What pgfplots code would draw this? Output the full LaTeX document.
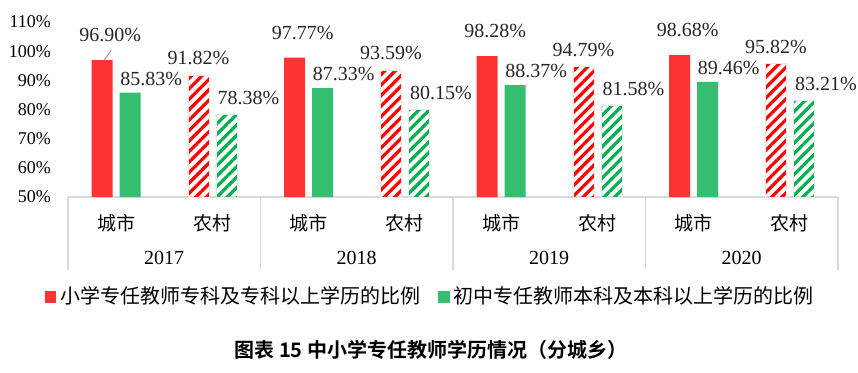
\documentclass[border=0pt]{standalone}
\usepackage{fontspec}
\setmainfont{Liberation Serif}
\newfontfamily\cjk{Noto Sans CJK SC}
\newfontfamily\cjkb{Noto Sans CJK SC Bold}
\usepackage{pgfplots}
\pgfplotsset{compat=1.18}
\usetikzlibrary{patterns.meta}
\definecolor{cred}{RGB}{255,51,51}
\definecolor{cgreen}{RGB}{51,191,111}
\definecolor{hred}{RGB}{255,0,0}
\definecolor{hgreen}{RGB}{0,176,80}
\definecolor{sep}{RGB}{217,217,217}
\begin{document}
\begin{tikzpicture}
\path[use as bounding box] (-34pt,-87.5pt) rectangle (395pt,98.5pt);
\begin{axis}[
  at={(0,0)}, anchor=south west,
  scale only axis, width=385pt, height=87.5pt,
  clip=false,
  ymin=50, ymax=110, ytick={50,60,...,110},
  yticklabel={\pgfmathprintnumber{\tick}\%},
  /pgf/number format/assume math mode=true,
  yticklabel style={font=\fontsize{9}{10}\selectfont, xshift=-5pt},
  xmin=-0.5, xmax=7.5,
  xtick={0,...,7},
  xticklabels={城市,农村,城市,农村,城市,农村,城市,农村},
  xticklabel style={font=\cjk\fontsize{9.5}{11}\selectfont, yshift=-5pt},
  major tick length=0pt,
  axis x line*=bottom, axis y line*=left,
  x axis line style={draw=sep, line width=0.6pt, -},
  y axis line style={draw=none},
  ybar, bar width=10.5pt,
  nodes near coords={\pgfmathprintnumber[fixed,precision=2,fixed zerofill]{\pgfplotspointmeta}\%},
  every node near coord/.append style={font=\fontsize{10}{11}\selectfont, text=black!85, anchor=south},
  legend style={at={(0.472,-0.571)}, anchor=center, draw=none, fill=none,
    font=\cjk\fontsize{10}{11}\selectfont, legend columns=2,
    /tikz/every even column/.append style={column sep=7pt}},
  legend image code/.code={\fill[#1] (0pt,-2.8pt) rectangle (5.6pt,2.8pt);},
]
% city: primary
\addplot[fill=cred, draw=none, bar shift=-7pt,
  every node near coord/.append style={xshift=4pt, yshift=5.5pt}]
  coordinates {(0,96.90) (2,97.77) (4,98.28) (6,98.68)};
\addlegendentry{小学专任教师专科及专科以上学历的比例}
% city: junior
\addplot[fill=cgreen, draw=none, bar shift=7pt,
  every node near coord/.append style={xshift=10.5pt, yshift=0pt}]
  coordinates {(0,85.83) (2,87.33) (4,88.37) (6,89.46)};
\addlegendentry{初中专任教师本科及本科以上学历的比例}
% rural: primary (hatched)
\addplot[forget plot, draw=sep!60, line width=0.3pt, bar shift=-7pt,
  pattern={Lines[angle=45,distance=3.7pt,line width=1.6pt]}, pattern color=hred,
  every node near coord/.append style={yshift=1.5pt}]
  coordinates {(1,91.82) (3,93.59) (5,94.79) (7,95.82)};
% rural: junior (hatched)
\addplot[forget plot, draw=sep!60, line width=0.3pt, bar shift=7pt,
  pattern={Lines[angle=45,distance=3.7pt,line width=1.6pt]}, pattern color=hgreen,
  every node near coord/.append style={xshift=11pt, yshift=1pt}]
  coordinates {(1,78.38) (3,80.15) (5,81.58) (7,83.21)};
% group separators
\draw[sep, line width=0.6pt] (axis cs:-0.5,50) -- ([yshift=-36.5pt]axis cs:-0.5,50);
\draw[sep, line width=0.6pt] (axis cs:1.5,50) -- ([yshift=-36.5pt]axis cs:1.5,50);
\draw[sep, line width=0.6pt] (axis cs:3.5,50) -- ([yshift=-36.5pt]axis cs:3.5,50);
\draw[sep, line width=0.6pt] (axis cs:5.5,50) -- ([yshift=-36.5pt]axis cs:5.5,50);
\draw[sep, line width=0.6pt] (axis cs:7.5,50) -- ([yshift=-36.5pt]axis cs:7.5,50);
\node[font=\fontsize{10}{11}\selectfont] at ([yshift=-30.5pt]axis cs:0.5,50) {2017};
\node[font=\fontsize{10}{11}\selectfont] at ([yshift=-30.5pt]axis cs:2.5,50) {2018};
\node[font=\fontsize{10}{11}\selectfont] at ([yshift=-30.5pt]axis cs:4.5,50) {2019};
\node[font=\fontsize{10}{11}\selectfont] at ([yshift=-30.5pt]axis cs:6.5,50) {2020};
% leader line
\draw[gray!70, line width=0.5pt] ([xshift=-6pt]axis cs:0,96.90) -- ([xshift=-2.5pt,yshift=5pt]axis cs:0,96.90);
\end{axis}
\node[font=\cjkb\fontsize{10}{11}\selectfont] at (181.5pt,-76.5pt) {图表 15 中小学专任教师学历情况（分城乡）};
\end{tikzpicture}
\end{document}
